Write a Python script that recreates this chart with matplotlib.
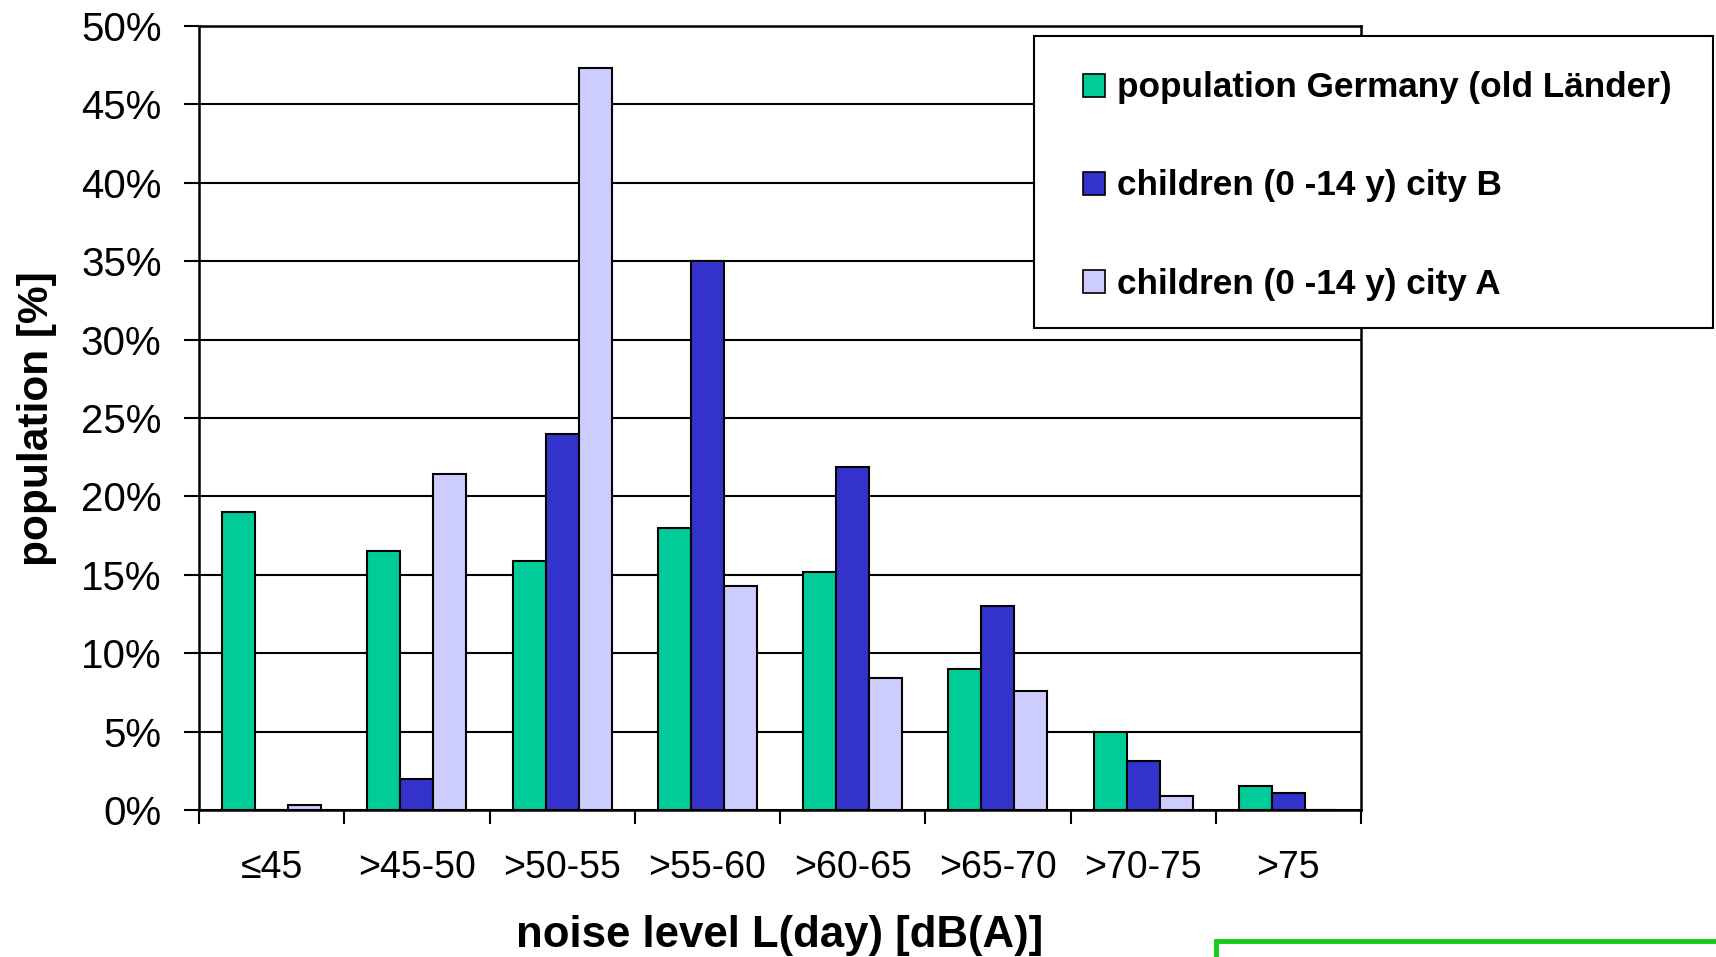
import matplotlib
matplotlib.use("Agg")
import matplotlib.pyplot as plt
from matplotlib.patches import Patch, Rectangle
from matplotlib.ticker import FixedLocator, PercentFormatter
from matplotlib import font_manager
import numpy as np

# Noise exposure classes and population shares (%)
categories = ["≤45", ">45-50", ">50-55", ">55-60", ">60-65", ">65-70", ">70-75", ">75"]
germany = [19.0, 16.5, 15.9, 18.0, 15.2, 9.0, 5.0, 1.5]
city_b = [0.0, 1.95, 24.0, 35.0, 21.9, 13.0, 3.1, 1.1]
city_a = [0.3, 21.4, 47.3, 14.3, 8.4, 7.6, 0.9, 0.0]
series_labels = ["population Germany (old Länder)",
                 "children (0 -14 y) city B",
                 "children (0 -14 y) city A"]
colors = ["#00CC99", "#3333CC", "#CCCCFF"]

# Condensed bold face for the legend and y label, if available
try:
    font_manager.findfont("Liberation Sans Narrow", fallback_to_default=False)
    narrow = ["Liberation Sans Narrow", "Liberation Sans", "DejaVu Sans"]
    narrow_scale = 1.2
except Exception:
    narrow = ["Liberation Sans", "DejaVu Sans"]
    narrow_scale = 1.0

plt.rcParams["font.family"] = ["Liberation Sans", "DejaVu Sans"]

W, H = 1716, 957
fig = plt.figure(figsize=(W / 100, H / 100), dpi=100)
ax = fig.add_axes([199 / W, 1 - 810 / H, (1361 - 199) / W, (810 - 26) / H])

x = np.arange(len(categories))
bw = 0.227
for i, (vals, col) in enumerate(zip([germany, city_b, city_a], colors)):
    ax.bar(x + (i - 1) * bw, vals, width=bw, color=col, edgecolor="black",
           linewidth=1.5, zorder=3)

ax.set_xlim(-0.5, len(categories) - 0.5)
ax.set_ylim(0, 50)
ax.set_yticks(np.arange(0, 51, 5))
ax.yaxis.set_major_formatter(PercentFormatter(decimals=0))
ax.grid(axis="y", color="black", linewidth=1.5, zorder=0)
ax.set_axisbelow(True)

ax.set_xticks(x)
ax.set_xticklabels(categories)
ax.xaxis.set_minor_locator(FixedLocator(np.arange(-0.5, len(categories), 1.0)))
ax.tick_params(axis="x", which="major", length=0, pad=29, labelsize=27)
ax.tick_params(axis="x", which="minor", length=10, width=1.5, direction="out")
ax.tick_params(axis="y", length=11, width=1.5, direction="out", pad=16, labelsize=29)

for sp in ax.spines.values():
    sp.set_linewidth(1.8)
    sp.set_color("black")

ax.set_xlabel("noise level L(day) [dB(A)]", fontsize=31.5, fontweight="bold", labelpad=21)
fig.text(37 / W, 1 - 419 / H, "population [%]", rotation=90, ha="center", va="center",
         fontsize=30.5 * narrow_scale, fontweight="bold", family=narrow)

# Legend frame and entries
fig.add_artist(Rectangle((1034 / W, 1 - 328 / H), (1713 - 1034) / W, (328 - 36) / H,
                         transform=fig.transFigure, facecolor="white",
                         edgecolor="black", linewidth=1.5, zorder=5))
handles = [Patch(facecolor=c, edgecolor="black", linewidth=1.2) for c in colors]
leg = fig.legend(handles, series_labels, loc="center left",
                 bbox_to_anchor=(1083 / W, 1 - 186 / H), frameon=False,
                 prop={"family": narrow, "weight": "bold", "size": 25.3 * narrow_scale},
                 handlelength=0.62, handleheight=0.62, handletextpad=0.35,
                 labelspacing=1.85, borderpad=0, borderaxespad=0)
leg.set_zorder(6)

# Green frame in the lower right corner
fig.add_artist(Rectangle((1216 / W, -0.05), 0.5, (1 - 941 / H) + 0.05,
                         transform=fig.transFigure, facecolor="none",
                         edgecolor="#11CC11", linewidth=3.5, zorder=7))

fig.savefig("out.png", dpi=100)
